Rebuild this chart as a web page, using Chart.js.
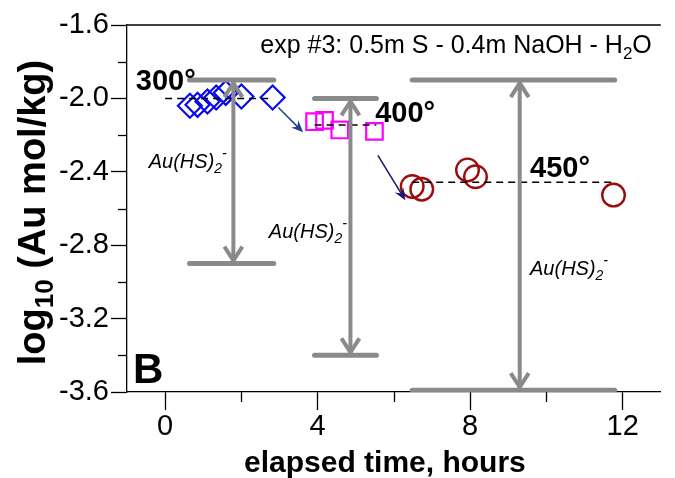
<!DOCTYPE html>
<html>
<head>
<meta charset="utf-8">
<script src="https://cdn.jsdelivr.net/npm/chart.js@4.4.0/dist/chart.umd.min.js"></script>
<style>
  html, body { margin: 0; padding: 0; background: #fff; }
</style>
</head>
<body>
<canvas id="grafico" width="675" height="478"></canvas>
<script>
/* ------------ Datos ------------ */
const t300 = [0.65, 0.85, 1.11, 1.34, 1.59, 2.0, 2.82];
const logAu300 = [-2.04, -2.035, -2.017, -1.995, -1.97, -1.99, -1.995];

const t400 = [3.92, 4.18, 4.58, 5.49];
const logAu400 = [-2.127, -2.12, -2.172, -2.18];

const t450 = [6.48, 6.73, 7.93, 8.14, 11.76];
const logAu450 = [-2.48, -2.495, -2.39, -2.427, -2.527];

// promedio de cada temperatura (línea discontinua)
const mediaIni = [0.0, 3.92, 6.48];
const mediaFin = [2.82, 5.54, 11.76];
const mediaY = [-2.0, -2.145, -2.457];

// rango de estabilidad de Au(HS)2- (flechas grises)
const rangoX = [1.79, 4.86, 9.3];
const rangoIzq = [0.64, 3.92, 6.48];
const rangoDer = [2.85, 5.54, 11.79];
const rangoSup = [-1.9, -2.0, -1.9];
const rangoInf = [-2.9, -3.4, -3.59];

const temperaturas = ["300°", "400°", "450°"];

// ejes
const xMin = -1, xMax = 13;
const yMin = -3.6, yMax = -1.6;

/* ------------ Posiciones de textos y flechas (en unidades de datos) ------------ */
const tempPosX = [-0.77, 5.51, 9.57];
const tempPosY = [-1.954, -2.127, -2.427];
const especiePosX = [-0.43, 2.72, 9.57];
const especiePosY = [-2.38, -2.761, -2.962];
const flechaDesde = [[2.97, -2.05], [5.58, -2.31]];
const flechaHasta = [[3.62, -2.185], [6.3, -2.555]];

const FUENTE = "'Liberation Sans', Arial, sans-serif";
const GRIS = "#8a8a8a";

const puntos = (xs, ys) => xs.map((v, i) => ({ x: v, y: ys[i] }));

function escribir(ctx, x, y, partes, align) {
  // partes: [texto, tamaño, estilo, desplazamiento vertical]
  let total = 0;
  partes.forEach(p => {
    ctx.font = `${p[2]} ${p[1]}px ${FUENTE}`;
    total += ctx.measureText(p[0]).width;
  });
  let cx = align === "right" ? x - total : align === "center" ? x - total / 2 : x;
  partes.forEach(p => {
    ctx.font = `${p[2]} ${p[1]}px ${FUENTE}`;
    ctx.fillText(p[0], cx, y + p[3]);
    cx += ctx.measureText(p[0]).width;
  });
}

function chevron(ctx, px, py, dir) {
  ctx.beginPath();
  ctx.moveTo(px - 9, py - dir * 14);
  ctx.lineTo(px, py);
  ctx.lineTo(px + 9, py - dir * 14);
  ctx.stroke();
}

function flecha(ctx, x0, y0, x1, y1, color) {
  const ang = Math.atan2(y1 - y0, x1 - x0);
  const largo = 12, ancho = 5;
  ctx.strokeStyle = color;
  ctx.fillStyle = color;
  ctx.lineWidth = 1.5;
  ctx.beginPath();
  ctx.moveTo(x0, y0);
  ctx.lineTo(x1 - Math.cos(ang) * 6, y1 - Math.sin(ang) * 6);
  ctx.stroke();
  ctx.save();
  ctx.translate(x1, y1);
  ctx.rotate(ang);
  ctx.beginPath();
  ctx.moveTo(0, 0);
  ctx.lineTo(-largo, -ancho);
  ctx.lineTo(-largo + 4, 0);
  ctx.lineTo(-largo, ancho);
  ctx.closePath();
  ctx.fill();
  ctx.restore();
}

// marcas: mayores cada 0.4 / 4 h, menores cada 0.2 / 2 h
const esMayorY = v => Math.abs(Math.round(v * 10)) % 4 === 0;
const esMayorX = v => Math.round(v) % 4 === 0;
const esMenorX = v => Math.round(v) % 2 === 0 && !esMayorX(v);

/* ------------ Plugin de anotaciones ------------ */
const anotaciones = {
  id: "anotaciones",
  afterDatasetsDraw(chart) {
    const { ctx, scales: { x, y } } = chart;
    ctx.save();
    ctx.strokeStyle = GRIS;
    ctx.lineWidth = 4;
    rangoX.forEach((rx, k) => {
      const px = x.getPixelForValue(rx);
      chevron(ctx, px, y.getPixelForValue(rangoSup[k]) + 3, -1);
      chevron(ctx, px, y.getPixelForValue(rangoInf[k]) - 3, 1);
    });
    const colores = ["#1c3f94", "#14147a"];
    flechaDesde.forEach((d, k) => {
      const h = flechaHasta[k];
      flecha(ctx, x.getPixelForValue(d[0]), y.getPixelForValue(d[1]),
        x.getPixelForValue(h[0]), y.getPixelForValue(h[1]), colores[k]);
    });
    ctx.restore();
  },
  afterDraw(chart) {
    const { ctx, chartArea: a, scales: { x, y } } = chart;
    ctx.save();
    ctx.strokeStyle = "#000";
    ctx.lineWidth = 1.3;
    // marco superior
    ctx.beginPath();
    ctx.moveTo(a.left, a.top);
    ctx.lineTo(a.right, a.top);
    ctx.stroke();
    // marcas menores
    y.ticks.forEach(t => {
      if (esMayorY(t.value)) return;
      const py = Math.round(y.getPixelForValue(t.value)) + 0.5;
      ctx.beginPath();
      ctx.moveTo(a.left - 9, py);
      ctx.lineTo(a.left, py);
      ctx.stroke();
    });
    x.ticks.forEach(t => {
      if (!esMenorX(t.value)) return;
      const px = Math.round(x.getPixelForValue(t.value)) + 0.5;
      ctx.beginPath();
      ctx.moveTo(px, a.bottom);
      ctx.lineTo(px, a.bottom + 10);
      ctx.stroke();
    });

    ctx.fillStyle = "#000";
    ctx.textBaseline = "alphabetic";
    // texto del experimento
    escribir(ctx, a.right - 9, a.top + 28, [
      ["exp #3: 0.5m S - 0.4m NaOH - H", 25, "normal", 0],
      ["2", 17, "normal", 6],
      ["O", 25, "normal", 0]
    ], "right");
    // temperaturas
    temperaturas.forEach((tx, k) => {
      escribir(ctx, x.getPixelForValue(tempPosX[k]), y.getPixelForValue(tempPosY[k]),
        [[tx, 29, "bold", 0]], "left");
    });
    // especie
    especiePosX.forEach((ex, k) => {
      escribir(ctx, x.getPixelForValue(ex), y.getPixelForValue(especiePosY[k]), [
        ["Au(HS)", 20, "italic", 0],
        ["2", 14, "italic", 5],
        ["-", 14, "italic", -10]
      ], "left");
    });
    // letra del panel
    escribir(ctx, x.getPixelForValue(-0.84), y.getPixelForValue(-3.551), [["B", 42, "bold", 0]], "left");
    // título eje x
    escribir(ctx, (a.left + a.right) / 2 - 9, 472, [["elapsed time, hours", 30, "bold", 0]], "center");
    // título eje y
    ctx.translate(45, (a.top + a.bottom) / 2 + 4);
    ctx.rotate(-Math.PI / 2);
    escribir(ctx, 0, 0, [
      ["log", 38, "bold", 0],
      ["10", 26, "bold", 8],
      [" (Au mol/kg)", 38, "bold", 0]
    ], "center");
    ctx.restore();
  }
};

/* ------------ Gráfico ------------ */
function generarGrafico() {
  const ctx = document.getElementById("grafico");

  const datasets = [];
  rangoX.forEach((rx, k) => {
    const gris = { borderColor: GRIS, pointRadius: 0, showLine: true, order: 0, borderCapStyle: "round" };
    datasets.push({ ...gris, borderWidth: 5, data: [{ x: rangoIzq[k], y: rangoSup[k] }, { x: rangoDer[k], y: rangoSup[k] }] });
    datasets.push({ ...gris, borderWidth: 5, data: [{ x: rangoIzq[k], y: rangoInf[k] }, { x: rangoDer[k], y: rangoInf[k] }] });
    datasets.push({ ...gris, borderWidth: 4, borderCapStyle: "butt", data: [{ x: rx, y: rangoSup[k] }, { x: rx, y: rangoInf[k] }] });
    datasets.push({
      borderColor: "#000", borderWidth: 1.5, borderDash: [7, 5], pointRadius: 0, showLine: true, order: 1,
      data: [{ x: mediaIni[k], y: mediaY[k] }, { x: mediaFin[k], y: mediaY[k] }]
    });
  });
  datasets.push({
    data: puntos(t300, logAu300), pointStyle: "rectRot", pointRadius: 12,
    borderColor: "#0a0af0", borderWidth: 2.2, backgroundColor: "rgba(0,0,0,0)", order: 2
  });
  datasets.push({
    data: puntos(t400, logAu400), pointStyle: "rect", pointRadius: 11.7,
    borderColor: "#ff00ff", borderWidth: 2.2, backgroundColor: "rgba(0,0,0,0)", order: 2
  });
  datasets.push({
    data: puntos(t450, logAu450), pointStyle: "circle", pointRadius: 11.3,
    borderColor: "#9e0b0b", borderWidth: 2.4, backgroundColor: "rgba(0,0,0,0)", order: 2
  });

  new Chart(ctx, {
    type: "scatter",
    data: { datasets },
    options: {
      responsive: false,
      animation: false,
      layout: { padding: { top: 25, right: 2, left: 0, bottom: 0 } },
      plugins: { legend: { display: false }, tooltip: { enabled: false } },
      scales: {
        x: {
          type: "linear", min: xMin, max: xMax,
          afterFit: s => { s.height = 86; },
          border: { display: true, color: "#000", width: 1.3 },
          grid: {
            drawOnChartArea: false, drawTicks: true, tickLength: 18, tickWidth: 1.3,
            tickColor: c => esMayorX(c.tick.value) ? "#000" : "rgba(0,0,0,0)"
          },
          ticks: {
            stepSize: 1, padding: 0, color: "#000",
            font: { family: FUENTE, size: 29 },
            maxRotation: 0, autoSkip: false,
            callback: v => esMayorX(v) ? String(Math.round(v)) : ""
          }
        },
        y: {
          type: "linear", min: yMin, max: yMax,
          afterFit: s => { s.width = 127; },
          border: { display: true, color: "#000", width: 1.3 },
          grid: {
            drawOnChartArea: false, drawTicks: true, tickLength: 16, tickWidth: 1.3,
            tickColor: c => esMayorY(c.tick.value) ? "#000" : "rgba(0,0,0,0)"
          },
          ticks: {
            stepSize: 0.2, padding: 2, color: "#000",
            font: { family: FUENTE, size: 29 },
            autoSkip: false,
            callback: v => esMayorY(v) ? v.toFixed(1) : ""
          }
        }
      }
    },
    plugins: [anotaciones]
  });
}

document.addEventListener("DOMContentLoaded", generarGrafico);
</script>
</body>
</html>
